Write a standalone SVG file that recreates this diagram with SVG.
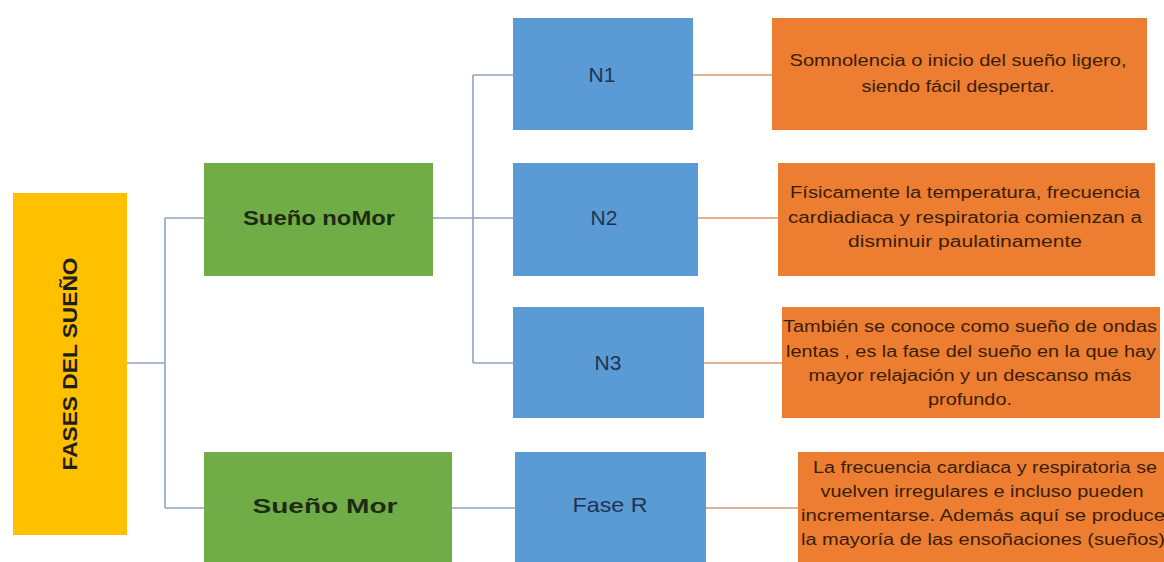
<svg xmlns="http://www.w3.org/2000/svg" width="1164" height="562" viewBox="0 0 1164 562">
<style>
.root{fill:#FFC000}
.green{fill:#70AD47}
.blue{fill:#5B9BD5}
.orange{fill:#ED7D31}
.c1{stroke:#8FA5C2;stroke-width:1.6;fill:none}
.c2{stroke:#D99A70;stroke-width:1.6;fill:none}
.t{font-family:"Liberation Sans",Arial,sans-serif;text-anchor:middle}
.tg{font-weight:bold;font-size:21px;fill:#1E2B14}
.tb{font-size:21px;fill:#1F3350}
.to{font-size:16px;fill:#3A1E08}
</style>
<rect width="1164" height="562" fill="#FFFFFF"/>
<g id="connectors">
<path class="c1" d="M127 363H165M165 218V508M165 218H204M165 508H204"/>
<path class="c1" d="M433 218H513M473 75V363M473 75H513M473 363H513M452 508H515"/>
<path class="c2" d="M693 75H772M698 218H778M704 363H782M706 508H798"/>
</g>
<g id="root">
<rect class="root" x="13" y="193" width="114" height="342"/>
<text class="t" transform="translate(77 364) rotate(-90)" font-size="21" font-weight="bold" fill="#1E1E1E" textLength="213" lengthAdjust="spacingAndGlyphs">FASES DEL SUEÑO</text>
</g>
<g id="noMor">
<rect class="green" x="204" y="163" width="229" height="113"/>
<text class="t tg" x="319" y="225" textLength="152" lengthAdjust="spacingAndGlyphs">Sueño noMor</text>
</g>
<g id="Mor">
<rect class="green" x="204" y="452" width="248" height="112"/>
<text class="t tg" x="325" y="513" font-size="22" textLength="145" lengthAdjust="spacingAndGlyphs">Sueño  Mor</text>
</g>
<g id="N1">
<rect class="blue" x="513" y="18" width="180" height="112"/>
<text class="t tb" x="602" y="82">N1</text>
</g>
<g id="N2">
<rect class="blue" x="513" y="163" width="185" height="113"/>
<text class="t tb" x="604" y="225">N2</text>
</g>
<g id="N3">
<rect class="blue" x="513" y="307" width="191" height="111"/>
<text class="t tb" x="608" y="370">N3</text>
</g>
<g id="FaseR">
<rect class="blue" x="515" y="452" width="191" height="112"/>
<text class="t tb" x="610" y="512" textLength="75" lengthAdjust="spacingAndGlyphs">Fase R</text>
</g>
<g id="D1">
<rect class="orange" x="772" y="18" width="375" height="112"/>
<text class="t to" x="958" y="66" textLength="337" lengthAdjust="spacingAndGlyphs">Somnolencia o inicio del sueño ligero,</text>
<text class="t to" x="958" y="92" textLength="193" lengthAdjust="spacingAndGlyphs">siendo fácil despertar.</text>
</g>
<g id="D2">
<rect class="orange" x="778" y="163" width="377" height="113"/>
<text class="t to" x="965" y="198" textLength="350" lengthAdjust="spacingAndGlyphs">Físicamente la temperatura, frecuencia</text>
<text class="t to" x="965" y="223" textLength="354" lengthAdjust="spacingAndGlyphs">cardiadiaca y respiratoria  comienzan a</text>
<text class="t to" x="965" y="247" textLength="234" lengthAdjust="spacingAndGlyphs">disminuir paulatinamente</text>
</g>
<g id="D3">
<rect class="orange" x="782" y="307" width="378" height="111"/>
<text class="t to" x="970" y="332" textLength="374" lengthAdjust="spacingAndGlyphs">También se conoce como sueño  de ondas</text>
<text class="t to" x="971" y="357" textLength="370" lengthAdjust="spacingAndGlyphs">lentas , es la fase del sueño  en la que hay</text>
<text class="t to" x="970" y="381" textLength="323" lengthAdjust="spacingAndGlyphs">mayor relajación y  un descanso más</text>
<text class="t to" x="970" y="405" textLength="84" lengthAdjust="spacingAndGlyphs">profundo.</text>
</g>
<g id="D4">
<rect class="orange" x="798" y="452" width="370" height="112"/>
<text class="t to" x="985" y="473" textLength="344" lengthAdjust="spacingAndGlyphs">La frecuencia cardiaca y respiratoria se</text>
<text class="t to" x="982" y="497" textLength="323" lengthAdjust="spacingAndGlyphs">vuelven irregulares  e incluso pueden</text>
<text class="t to" x="983" y="521" textLength="364" lengthAdjust="spacingAndGlyphs">incrementarse. Además aquí se produce</text>
<text class="t to" x="983" y="545" textLength="364" lengthAdjust="spacingAndGlyphs">la mayoría de las ensoñaciones (sueños)</text>
</g>
</svg>
